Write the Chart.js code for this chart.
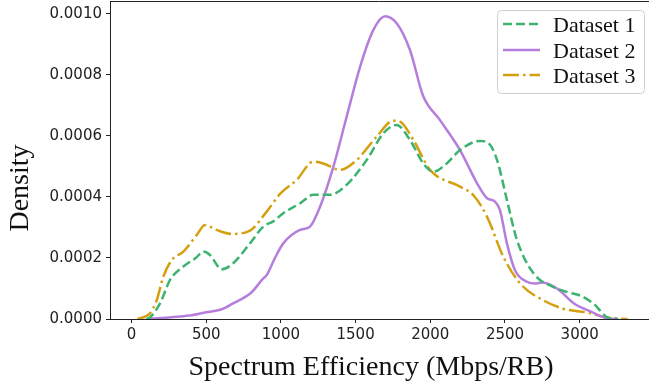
<!DOCTYPE html>
<html>
<head>
<meta charset="utf-8">
<script src="https://cdn.jsdelivr.net/npm/chart.js@4.4.1/dist/chart.umd.min.js"></script>
<style>
  html, body { margin: 0; padding: 0; background: #fff; }
  #chart { display: block; }
</style>
</head>
<body>
<canvas id="chart" width="649" height="384"></canvas>
<script>
// ── data (density estimates) ──
const seriesNames = ['Dataset 1', 'Dataset 2', 'Dataset 3'];

const d1X = [100, 124, 191, 258, 347, 430, 481, 525, 604, 681, 793, 882, 949, 1016, 1128, 1217, 1329, 1440, 1574, 1686, 1775, 1864, 1953, 2020, 2110, 2199, 2333, 2391, 2447, 2513, 2580, 2694, 2828, 2920, 3007, 3096, 3186, 3250];
const d1Y = [0, 0.000005, 0.000051, 0.000128, 0.000172, 0.000200, 0.000221, 0.000210, 0.000163, 0.000183, 0.000248, 0.000303, 0.000320, 0.000347, 0.000379, 0.000407, 0.000407, 0.000440, 0.000521, 0.000609, 0.000636, 0.000587, 0.000510, 0.000483, 0.000510, 0.000554, 0.000584, 0.000576, 0.000521, 0.000390, 0.000259, 0.000148, 0.000104, 0.000088, 0.000076, 0.000049, 0.000005, 0];

const d2X = [100, 200, 300, 400, 500, 600, 680, 800, 882, 905, 960, 1016, 1128, 1195, 1262, 1351, 1440, 1530, 1619, 1697, 1775, 1864, 1953, 2065, 2199, 2313, 2380, 2433, 2466, 2513, 2567, 2647, 2700, 2748, 2848, 2962, 3076, 3186, 3260];
const d2Y = [0, 0.000003, 0.000007, 0.000012, 0.000022, 0.000031, 0.000051, 0.000086, 0.000133, 0.000144, 0.000200, 0.000248, 0.000292, 0.000303, 0.000368, 0.000499, 0.000663, 0.000827, 0.000948, 0.000993, 0.000970, 0.000882, 0.000730, 0.000652, 0.000554, 0.000445, 0.000396, 0.000385, 0.000357, 0.000248, 0.000160, 0.000122, 0.000116, 0.000120, 0.000100, 0.000051, 0.000024, 0.000002, 0];

const d3X = [40, 124, 169, 213, 269, 347, 436, 492, 570, 671, 793, 905, 994, 1106, 1217, 1284, 1396, 1507, 1641, 1752, 1797, 1887, 1998, 2199, 2290, 2380, 2491, 2604, 2761, 2895, 3052, 3186, 3321];
const d3Y = [0, 0.000019, 0.000062, 0.000139, 0.000193, 0.000221, 0.000275, 0.000308, 0.000292, 0.000279, 0.000290, 0.000352, 0.000410, 0.000456, 0.000516, 0.000510, 0.000489, 0.000521, 0.000598, 0.000650, 0.000647, 0.000587, 0.000489, 0.000434, 0.000405, 0.000335, 0.000202, 0.000115, 0.000060, 0.000033, 0.000021, 0.000005, 0];

const xTicks = [0, 500, 1000, 1500, 2000, 2500, 3000];
const yTicks = [0, 0.0002, 0.0004, 0.0006, 0.0008, 0.0010];

const colors = ['#3cb371', '#b57edc', '#d4a010'];
const dashes = [[9, 4], [], [16, 4, 2.5, 4]];

const pts = (xs, ys) => xs.map((x, i) => ({ x, y: ys[i] }));
const allX = [d1X, d2X, d3X];
const allY = [d1Y, d2Y, d3Y];

const SERIF = '"Liberation Serif", "DejaVu Serif", serif';
const SANS = '"DejaVu Sans", sans-serif';

// titles, legend and the top spine drawn by hand
const decor = {
    id: 'decor',
    afterDraw(chart) {
        const { ctx, chartArea: a } = chart;
        ctx.save();
        // top spine
        ctx.strokeStyle = '#222';
        ctx.lineWidth = 1;
        ctx.beginPath();
        ctx.moveTo(a.left, a.top + 0.5);
        ctx.lineTo(a.right, a.top + 0.5);
        ctx.stroke();

        // axis titles
        ctx.fillStyle = '#111';
        ctx.font = '28px ' + SERIF;
        ctx.textAlign = 'center';
        ctx.textBaseline = 'alphabetic';
        ctx.fillText('Spectrum Efficiency (Mbps/RB)', 371, 375);
        ctx.save();
        ctx.translate(28, 188);
        ctx.rotate(-Math.PI / 2);
        ctx.fillText('Density', 0, 0);
        ctx.restore();

        // legend
        const bx = 497, by = 10, bw = 147, bh = 83, r = 4;
        ctx.fillStyle = 'rgba(255,255,255,0.8)';
        ctx.strokeStyle = '#d0d0d0';
        ctx.lineWidth = 1;
        ctx.beginPath();
        ctx.roundRect(bx + 0.5, by + 0.5, bw, bh, r);
        ctx.fill();
        ctx.stroke();
        const rows = [24, 50, 75];
        seriesNames.forEach((name, i) => {
            ctx.strokeStyle = colors[i];
            ctx.lineWidth = 2.5;
            ctx.lineCap = 'butt';
            ctx.setLineDash(dashes[i]);
            ctx.beginPath();
            ctx.moveTo(503, rows[i]);
            ctx.lineTo(540, rows[i]);
            ctx.stroke();
            ctx.setLineDash([]);
            ctx.fillStyle = '#111';
            ctx.font = '22px ' + SERIF;
            ctx.textAlign = 'left';
            ctx.textBaseline = 'alphabetic';
            ctx.fillText(name, 553, rows[i] + 8);
        });
        ctx.restore();
    }
};

new Chart(document.getElementById('chart'), {
    type: 'scatter',
    data: {
        datasets: seriesNames.map((name, i) => ({
            label: name,
            data: pts(allX[i], allY[i]),
            showLine: true,
            borderColor: colors[i],
            backgroundColor: colors[i],
            borderWidth: 2.5,
            borderDash: dashes[i],
            borderCapStyle: 'butt',
            pointRadius: 0,
            pointHoverRadius: 0,
            cubicInterpolationMode: 'monotone',
            fill: false
        }))
    },
    options: {
        responsive: false,
        animation: false,
        events: [],
        layout: { padding: { top: 1, right: 0, left: 0, bottom: 0 } },
        plugins: { legend: { display: false }, tooltip: { enabled: false } },
        scales: {
            x: {
                type: 'linear',
                min: -143.9,
                max: 3463.9,
                afterBuildTicks: s => { s.ticks = xTicks.map(v => ({ value: v })); },
                afterFit: s => { s.height = 65; s.paddingLeft = 0; s.paddingRight = 0; },
                ticks: { color: '#222', font: { family: SANS, size: 15 }, padding: 3, maxRotation: 0, callback: v => String(v) },
                grid: { display: true, drawOnChartArea: false, drawTicks: true, tickLength: 4, tickColor: '#222' },
                border: { display: true, color: '#222', width: 1 }
            },
            y: {
                type: 'linear',
                min: 0,
                max: 0.0010426,
                afterBuildTicks: s => { s.ticks = yTicks.map(v => ({ value: v })); },
                afterFit: s => { s.width = 110; s.paddingTop = 0; s.paddingBottom = 0; },
                ticks: { color: '#222', font: { family: SANS, size: 15 }, padding: 4, callback: v => v.toFixed(4) },
                grid: { display: true, drawOnChartArea: false, drawTicks: true, tickLength: 4, tickColor: '#222' },
                border: { display: true, color: '#222', width: 1 }
            }
        }
    },
    plugins: [decor]
});
</script>
</body>
</html>
